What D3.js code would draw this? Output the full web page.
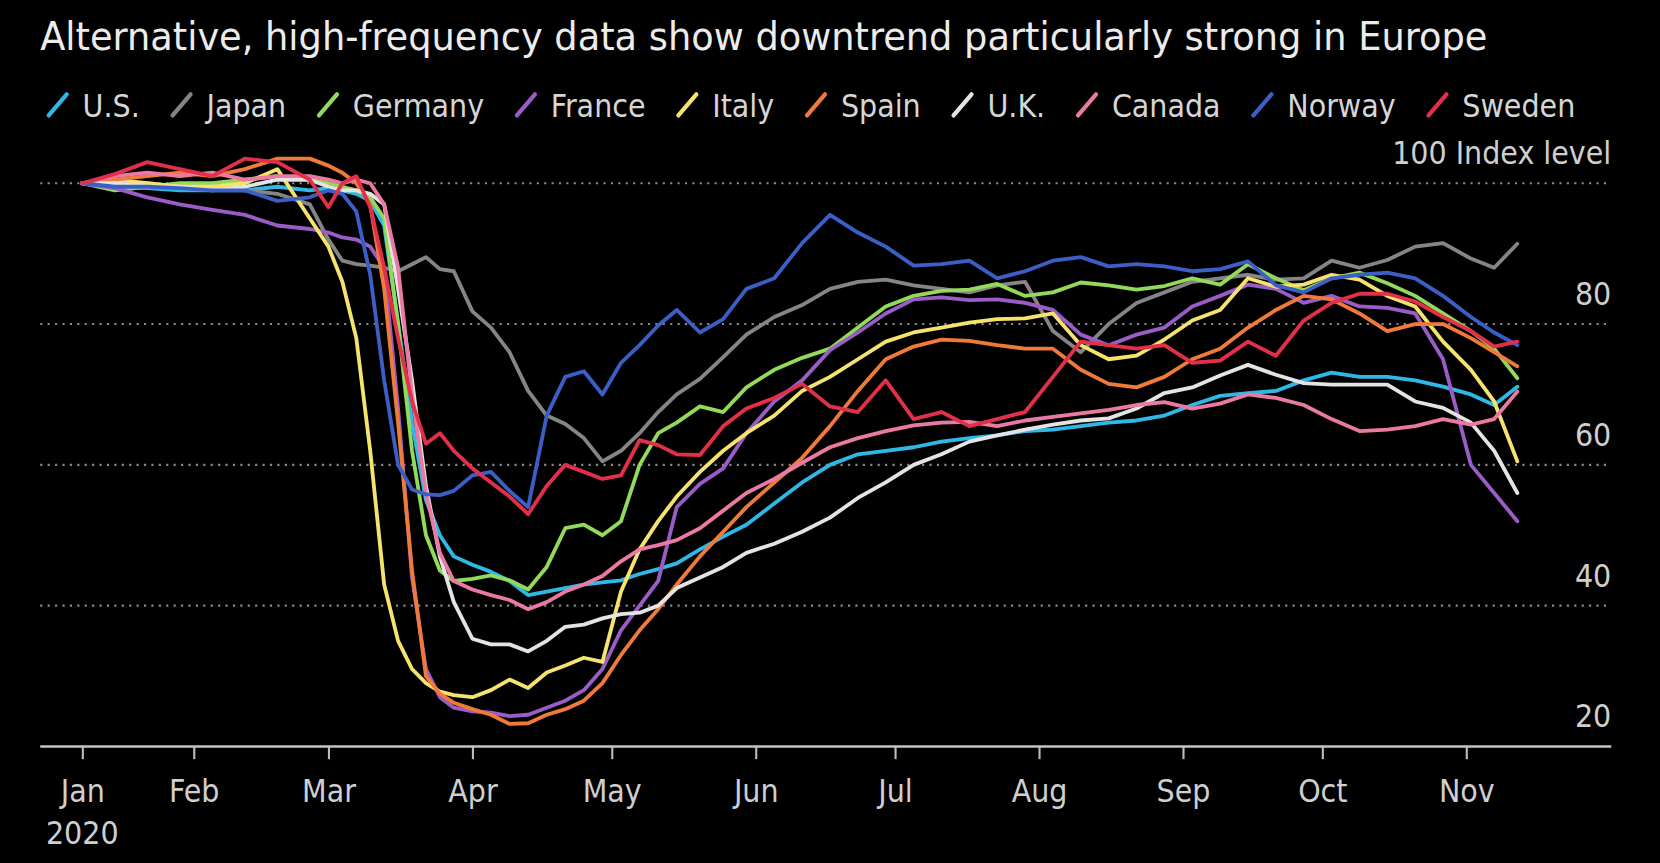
<!DOCTYPE html>
<html>
<head>
<meta charset="utf-8">
<script src="https://cdnjs.cloudflare.com/ajax/libs/d3/7.8.5/d3.min.js"></script>
<style>
html, body { margin:0; padding:0; background:#000; overflow:hidden; }
svg { display:block; }
text { font-family: "DejaVu Sans Condensed", "DejaVu Sans", sans-serif; }
</style>
</head>
<body>
<div id="chart"></div>
<script>

// sample dates (daily index, read off roughly weekly, denser in March)
var dates = ["2020-01-08","2020-01-15","2020-01-22","2020-01-29","2020-02-05","2020-02-12","2020-02-19","2020-02-26",
	"2020-03-01","2020-03-04","2020-03-07","2020-03-10","2020-03-13","2020-03-16","2020-03-19","2020-03-22","2020-03-25","2020-03-28",
	"2020-04-01","2020-04-05","2020-04-09","2020-04-13","2020-04-17","2020-04-21","2020-04-25","2020-04-29",
	"2020-05-03","2020-05-07","2020-05-11","2020-05-15","2020-05-20","2020-05-25","2020-05-30",
	"2020-06-05","2020-06-11","2020-06-17","2020-06-23","2020-06-29",
	"2020-07-05","2020-07-11","2020-07-17","2020-07-23","2020-07-29",
	"2020-08-04","2020-08-10","2020-08-16","2020-08-22","2020-08-28",
	"2020-09-03","2020-09-09","2020-09-15","2020-09-21","2020-09-27",
	"2020-10-03","2020-10-09","2020-10-15","2020-10-21","2020-10-27",
	"2020-11-02","2020-11-07","2020-11-12"];

var us      = [100,99.5,99.3,99,99,99,99.5,99, 99.3,99,98.5,97.5,94,80,66,55,50,47, 45.8,44.8,43.5,41.5,42,42.5,43,43.3, 43.6,44.5,45.2,46,48,49.8,51.5, 54.5,57.5,60,61.5,62, 62.5,63.3,63.8,64.2,64.8, 65,65.5,66,66.3,67, 68.5,69.8,70.2,70.5,72, 73.1,72.5,72.5,72,71.1, 70,68.5,71.1];
var japan   = [100,100,100,99.5,99.5,99,98.5,97, 92,89,88.5,88.3,88,87.5,88.5,89.5,87.8,87.5, 81.8,79.5,76,70.5,67,65.8,63.8,60.5, 62,64.5,67.5,70,72.2,75.3,78.5, 81,82.7,85,86,86.3, 85.5,85,84.5,85.5,86, 79,76,80,83,84.5, 86,86.5,87,86.3,86.5, 89,88,89.1,91,91.5, 89.3,88,91.4];
var germany = [100,99,99.5,100,100,100.5,101,100.5, 100,99.5,99,98,95,80,62,50,45,43.5, 43.8,44.3,43.6,42.3,45.5,51,51.5,50, 52,60,64.5,66,68.3,67.5,71, 73.5,75.2,76.5,79.5,82.5, 84,84.7,84.9,85.7,84, 84.5,85.9,85.5,84.9,85.4, 86.5,85.6,88.5,86.5,84.8, 86.5,87.3,85.8,84,81.5, 79,76.5,72.3];
var france  = [100,99.3,98,97,96.2,95.5,94,93.5, 93,92.3,92,91,88,68,44,31,27,25.5, 25,24.8,24.3,24.5,25.5,26.5,28,31, 36.5,40,43.5,54,57.3,59.5,64.5, 69,72,76.3,78.8,81.5, 83.5,83.8,83.4,83.5,83, 82,78.5,77,78.5,79.5, 82.5,84,85.6,85,83, 84,82.5,82.3,81.5,75, 60,56,52];
var italy   = [100,100.5,100,99.5,99.5,100,102,95, 91,86,78,62,43,35,31,29,27.8,27.3, 27,28,29.5,28.3,30.5,31.5,32.6,32, 42,48,52,55.5,59,62,64.5, 67,70.5,72.5,75,77.5, 78.8,79.5,80.2,80.7,80.8, 81.5,77,75,75.5,77.8, 80.5,82,86.5,85.3,85.6, 87,86.3,84,82.5,77.5, 73.5,69,60.5];
var spain   = [100,100.5,101,101.5,101,102,103.5,103.5, 102.5,101.5,100,97,85,66,45,30,27.5,26.2, 25.3,24.5,23.2,23.3,24.5,25.3,26.5,29, 33,36.5,39.5,43,47,50.5,54, 57.5,61,65.5,70.5,75, 76.8,77.8,77.6,77,76.5, 76.5,73.5,71.5,71,72.5, 75,76.5,79.5,82,84, 83.5,81.5,79,80,80, 78,76,74];
var uk      = [100,100,99.5,99.5,99,99.5,100.5,100.5, 99.5,99,99,98.5,97,85,72,57,47,40.5, 35.3,34.5,34.5,33.5,35,37,37.3,38.2, 38.8,39,40,42.5,44,45.5,47.5, 48.8,50.5,52.5,55.3,57.5, 60,61.5,63.3,64.2,65, 65.7,66.3,66.6,68,70.2, 71,72.7,74.2,72.8,71.6, 71.4,71.4,71.4,69,68.1, 66,62,56];
var canada  = [100,101,101.5,101,101.5,100.5,101,101, 100.5,100,100.5,100,97,88,70,56,47.5,43.5, 42.3,41.5,40.8,39.5,40.5,42,43,44.2, 46.3,48,48.6,49.3,51,53.5,56, 58,60.3,62.5,63.8,64.8, 65.6,66,66.1,65.5,66.3, 66.8,67.3,67.8,68.5,68.9, 68,68.7,70,69.5,68.5, 66.5,64.8,65,65.5,66.5, 65.7,66.5,70.4];
var norway  = [100,99.5,99.5,99.3,99,99,97.5,98, 99,98.5,96,87,72,60,56.5,55.8,55.7,56.3, 58.5,59,56.3,54,67,72.5,73.3,70, 74.5,77,79.8,82,78.8,80.7,85, 86.5,91.5,95.5,93,91, 88.3,88.5,89,86.5,87.5, 89,89.5,88.2,88.5,88.2, 87.5,87.8,88.9,85.5,84.5, 86.5,87,87.3,86.5,84, 81,78.8,77];
var sweden  = [100,101.3,103,102,101,103.5,103,100.5, 96.6,100,101,96.6,88,78,69,63,64.5,62, 59.5,57.5,55.5,53,57,60,59,58, 58.5,63.5,62.8,61.5,61.4,65.5,68, 69.5,71.5,68.3,67.5,72, 66.5,67.5,65.5,66.5,67.5, 72.5,77.5,77,76.5,77, 74.5,74.8,77.5,75.5,80.5, 83,84.3,84.3,83.2,81, 79,76.8,77.5];

var names  = ["U.S.","Japan","Germany","France","Italy","Spain","U.K.","Canada","Norway","Sweden"];
var values = [us, japan, germany, france, italy, spain, uk, canada, norway, sweden];
var colors = ["#2fb8e6","#858585","#93d95a","#9a5cc6","#f6e36e","#f07a38","#e4e4e4","#ea7aa3","#3b5fc6","#e3304a"];

var yTicks = [20, 40, 60, 80, 100];
var tickDates  = ["2020-01-08","2020-02-01","2020-03-01","2020-04-01","2020-05-01","2020-06-01",
	"2020-07-01","2020-08-01","2020-09-01","2020-10-01","2020-11-01"];
var tickLabels = ["Jan","Feb","Mar","Apr","May","Jun","Jul","Aug","Sep","Oct","Nov"];

var title = "Alternative, high-frequency data show downtrend particularly strong in Europe";

///////////////////////////////////////////////////

var W = 1568, H = 815;
var pLeft = 38, pRight = 1522, pTop = 173, pBottom = 705;

var parseDate = d3.timeParse("%Y-%m-%d");

var x = d3.scaleTime()
	.domain([parseDate("2020-02-01"), parseDate("2020-11-01")])
	.range([183, 1385]);
var y = d3.scaleLinear().domain([20, 100]).range([pBottom, pTop]);

var svg = d3.select("#chart").append("svg")
	.attr("width", 1660).attr("height", 863)
	.attr("viewBox", "0 0 " + W + " " + H);

svg.append("rect").attr("width", W).attr("height", H).attr("fill", "#000");

// title
svg.append("text")
	.attr("x", pLeft).attr("y", 47)
	.attr("font-size", 37)
	.attr("fill", "#ececec")
	.attr("textLength", 1367).attr("lengthAdjust", "spacingAndGlyphs")
	.text(title);

// legend
var lx = 45;
var leg = svg.append("g").attr("class", "legend");
names.forEach(function(n, i) {
	leg.append("line")
		.attr("x1", lx + 1).attr("y1", 109).attr("x2", lx + 18).attr("y2", 89)
		.attr("stroke", colors[i]).attr("stroke-width", 4).attr("stroke-linecap", "round");
	var t = leg.append("text")
		.attr("x", lx + 33).attr("y", 110)
		.attr("font-size", 30).attr("fill", "#d6d6d6")
		.text(n);
	lx = lx + 33 + t.node().getComputedTextLength() + 30;
});

// gridlines
svg.append("g").attr("class", "grid")
	.selectAll("line").data([40, 60, 80, 100]).enter().append("line")
	.attr("x1", pLeft).attr("x2", pRight)
	.attr("y1", function(d) { return y(d); }).attr("y2", function(d) { return y(d); })
	.attr("stroke", "#8a8a8a").attr("stroke-width", 2)
	.attr("stroke-dasharray", "2,5");

// y labels, right side above each line
svg.append("g").attr("class", "ylab")
	.selectAll("text").data(yTicks).enter().append("text")
	.attr("x", pRight).attr("y", function(d) { return y(d) - 18; })
	.attr("text-anchor", "end")
	.attr("font-size", 30).attr("fill", "#cfcfcf")
	.text(function(d) { return d === 100 ? "100 Index level" : d; });

// x axis
var xax = svg.append("g").attr("class", "xax")
	.attr("transform", "translate(0," + pBottom + ")")
	.call(d3.axisBottom(x)
		.tickValues(tickDates.map(parseDate))
		.tickSize(12).tickPadding(19)
		.tickFormat(function(d, i) { return tickLabels[i]; }));
xax.select(".domain").remove();
xax.selectAll(".tick line").attr("stroke", "#bdbdbd").attr("stroke-width", 2);
xax.selectAll(".tick text").attr("fill", "#cfcfcf").attr("font-size", 30)
	.style("font-family", "\"DejaVu Sans Condensed\", \"DejaVu Sans\", sans-serif");
xax.append("line").attr("x1", pLeft).attr("x2", pRight).attr("y1", 0).attr("y2", 0)
	.attr("stroke", "#c4c4c4").attr("stroke-width", 2.5);
svg.append("text")
	.attr("x", x(parseDate(tickDates[0]))).attr("y", 797)
	.attr("text-anchor", "middle").attr("font-size", 30).attr("fill", "#cfcfcf")
	.text("2020");

// lines
var valueline = d3.line()
	.x(function(d) { return x(d.dt); })
	.y(function(d) { return y(d.v); });

var series = values.map(function(arr) {
	return arr.map(function(v, j) { return { dt: parseDate(dates[j]), v: v }; });
});

svg.append("g").attr("class", "lines")
	.selectAll("path").data(series).enter().append("path")
	.attr("d", valueline)
	.attr("fill", "none")
	.attr("stroke", function(d, i) { return colors[i]; })
	.attr("stroke-width", 3.6)
	.attr("stroke-linejoin", "round")
	.attr("stroke-linecap", "round");

</script>
</body>
</html>
